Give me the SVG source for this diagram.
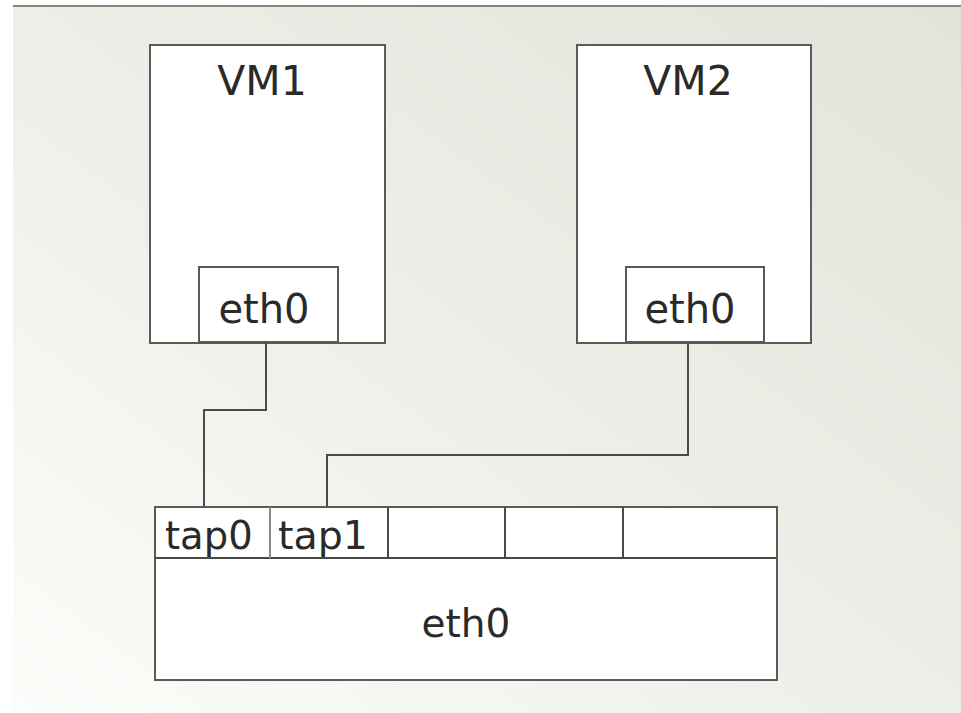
<svg xmlns="http://www.w3.org/2000/svg" width="961" height="713" viewBox="0 0 961 713">
<defs>
<linearGradient id="bg" x1="1" y1="0" x2="0" y2="1">
<stop offset="0" stop-color="#e2e3da"/>
<stop offset="0.5" stop-color="#eeeee8"/>
<stop offset="1" stop-color="#fcfcfa"/>
</linearGradient>
<linearGradient id="edge" x1="0" y1="0" x2="0" y2="1">
<stop offset="0" stop-color="#8a8b84"/>
<stop offset="1" stop-color="#c8c8c4"/>
</linearGradient>
</defs>
<style>
.box{fill:#ffffff;stroke:#5a5a58;stroke-width:2}
.line{fill:none;stroke:#4a4a48;stroke-width:2}
.t{font-family:"DejaVu Sans",sans-serif;fill:#2a2a2a}
</style>
<rect x="0" y="0" width="961" height="713" fill="#ffffff"/>
<rect x="13" y="6" width="948" height="707" fill="url(#bg)"/>
<line x1="13" y1="6" x2="961" y2="6" stroke="#85867f" stroke-width="2"/>
<line x1="13" y1="6" x2="13" y2="713" stroke="url(#edge)" stroke-width="2"/>
<g id="vm1">
<rect class="box" x="150" y="45" width="235" height="298"/>
<text class="t" x="262" y="95" font-size="41" text-anchor="middle">VM1</text>
</g>
<g id="vm1-eth0">
<rect class="box" x="199" y="267" width="139" height="75"/>
<text class="t" x="264" y="323" font-size="40" text-anchor="middle">eth0</text>
</g>
<g id="vm2">
<rect class="box" x="577" y="45" width="234" height="298"/>
<text class="t" x="688" y="95" font-size="41" text-anchor="middle">VM2</text>
</g>
<g id="vm2-eth0">
<rect class="box" x="626" y="267" width="138" height="75"/>
<text class="t" x="690" y="323" font-size="40" text-anchor="middle">eth0</text>
</g>
<g id="connectors">
<polyline class="line" points="266,342 266,410 204,410 204,507"/>
<polyline class="line" points="688,342 688,455 327,455 327,507"/>
</g>
<g id="host-eth0">
<rect class="box" x="155" y="507" width="622" height="173"/>
<line class="line" x1="155" y1="558" x2="777" y2="558"/>
<text class="t" x="466" y="637" font-size="39" text-anchor="middle">eth0</text>
</g>
<g id="tap0">
<text class="t" x="165" y="549" font-size="38.5">tap0</text>
</g>
<g id="tap1">
<line x1="270" y1="507" x2="270" y2="558" stroke="#8a8a88" stroke-width="2"/>
<text class="t" x="278" y="549" font-size="39.5">tap1</text>
</g>
<g id="slot3">
<line class="line" x1="388" y1="507" x2="388" y2="558"/>
</g>
<g id="slot4">
<line class="line" x1="505" y1="507" x2="505" y2="558"/>
</g>
<g id="slot5">
<line class="line" x1="623" y1="507" x2="623" y2="558"/>
</g>
</svg>
